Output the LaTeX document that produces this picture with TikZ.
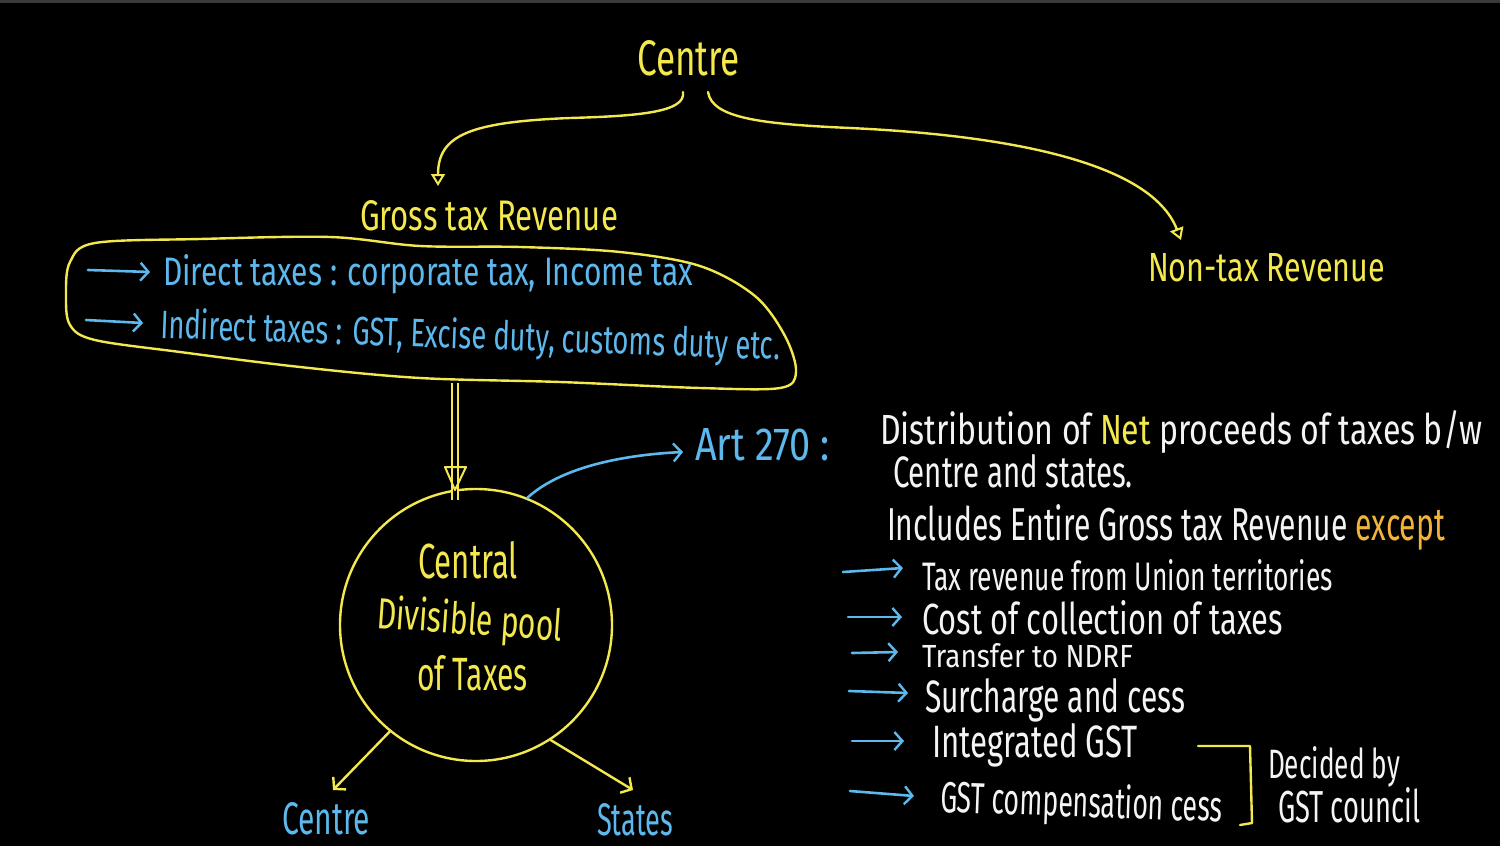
\documentclass[tikz,border=0pt]{standalone}
\usepackage{fontspec}
\setmainfont{Fira Sans}
\usetikzlibrary{arrows.meta}
\definecolor{ylw}{HTML}{F3E84E}
\definecolor{blu}{HTML}{5DB8EE}
\definecolor{wht}{HTML}{F4F4F4}
\definecolor{org}{HTML}{F0B43C}
\definecolor{topbar}{HTML}{3A3A3A}
\newcommand\fitto[3]{\resizebox{#1pt}{#2pt}{#3}}
\begin{document}
\begin{tikzpicture}[x=1pt,y=-1pt,
  lbl/.style={anchor=base west, inner sep=0pt, outer sep=0pt, font=\fontsize{30}{30}\selectfont},
  yl/.style={lbl, text=ylw}, bl/.style={lbl, text=blu}, wh/.style={lbl, text=wht},
  ystroke/.style={draw=ylw, line width=2.4pt, line cap=round, line join=round},
  bstroke/.style={draw=blu, line width=2.6pt, line cap=round, line join=round},
  barb/.style={-{Straight Barb[length=8pt,width=18pt,line width=2.4pt]}},
  tri/.style={-{Triangle[open,length=12pt,width=14pt,line width=2pt]}},
]
\useasboundingbox (0,0) rectangle (1500,846);
\fill[black] (0,0) rectangle (1500,846);
\fill[topbar] (0,0) rectangle (1500,3);

% top
\node[yl] (centre) at (637,75) {\fitto{103}{35}{Centre}};
\coordinate (cL) at (683,92);
\coordinate (cR) at (708,92);
\node[yl] (gross) at (360,230) {\fitto{258}{30}{Gross tax Revenue}};
\coordinate (grossT) at (438,186);
\node[yl] (nontax) at (1148,281) {\fitto{237}{28}{Non-tax Revenue}};
\coordinate (nontaxT) at (1181,240);
\draw[ystroke, tri] (cL) .. controls (686,112) and (640,116) .. (570,118)
   .. controls (470,122) and (438,135) .. (grossT);
\draw[ystroke, tri] (cR) .. controls (712,118) and (760,124) .. (850,128)
   .. controls (1000,135) and (1150,160) .. (nontaxT);

% blob
\draw[ystroke] plot[smooth cycle, tension=0.55] coordinates {
 (70,262) (95,243) (200,239) (330,237) (420,246) (520,247) (620,252) (700,266)
 (755,296) (785,336) (796,372) (780,388) (700,388) (560,382) (420,378) (300,367)
 (180,352) (95,340) (70,325) (66,295)};
\coordinate (blobS) at (455,383);

\node[bl] (direct) at (163,285) {\fitto{530}{31}{Direct taxes : corporate tax, Income tax}};
\node[bl, rotate=-2] (indirect) at (160,338) {\fitto{620}{31}{Indirect taxes : GST, Excise duty, customs duty etc.}};
\coordinate (a1s) at (88,270); \coordinate (a1e) at (150,272);
\coordinate (a2s) at (86,320); \coordinate (a2e) at (143,323);
\draw[bstroke, barb] (a1s) -- (a1e);
\draw[bstroke, barb] (a2s) -- (a2e);

% pool circle
\node[circle, draw=ylw, line width=2.4pt, minimum size=272pt, inner sep=0pt] (pool) at (476,625) {};
\node[yl] (t1) at (418,578) {\fitto{100}{37}{Central}};
\node[yl, rotate=-4] (t2) at (376,628) {\fitto{186}{34}{Divisible pool}};
\node[yl] (t3) at (417,690) {\fitto{111}{35}{of Taxes}};

\draw[ylw, line width=2pt, double=black, double distance=3.5pt] (blobS) -- ([yshift=-12pt]blobS |- pool.north);
\draw[ystroke, line width=2pt] (445,467) -- (455,490) -- (466,467) -- cycle;

\node[bl] (bcentre) at (282,834) {\fitto{88}{32}{Centre}};
\node[bl] (bstates) at (597,835) {\fitto{76}{32}{States}};
\coordinate (bcT) at (333,790);
\coordinate (bsT) at (633,790);
\draw[ystroke, barb] (pool.231) -- (bcT);
\draw[ystroke, barb] (pool.303) -- (bsT);

% Art 270
\node[bl] (art) at (695,460) {\fitto{135}{32}{Art 270 :}};
\coordinate (artT) at (683,452);
\draw[bstroke, barb] (pool.68) .. controls (560,468) and (620,455) .. (artT);

% right text
\node[wh] (d1) at (880,444) {\fitto{602}{34}{Distribution of \textcolor{ylw}{Net} proceeds of taxes b/w}};
\node[wh] (d2) at (893,487) {\fitto{240}{33}{Centre and states.}};
\node[wh] (d3) at (887,540) {\fitto{558}{36}{Includes Entire Gross tax Revenue \textcolor{org}{except}}};

\node[wh] (e1) at (922,590) {\fitto{411}{31}{Tax revenue from Union territories}};
\node[wh] (e2) at (922,634) {\fitto{361}{34}{Cost of collection of taxes}};
\node[wh] (e3) at (922,667) {\fitto{211}{24}{Transfer to NDRF}};
\node[wh] (e4) at (925,712) {\fitto{260}{34}{Surcharge and cess}};
\node[wh] (e5) at (932,757) {\fitto{206}{34}{Integrated GST}};
\node[wh, rotate=-2] (e6) at (940,812) {\fitto{282}{34}{GST compensation cess}};

\draw[bstroke, barb] (843,572) -- (903,568);
\draw[bstroke, barb] (848,617) -- (902,617);
\draw[bstroke, barb] (852,653) -- (898,652);
\draw[bstroke, barb] (849,691) -- (908,693);
\draw[bstroke, barb] (852,741) -- (904,741);
\draw[bstroke, barb] (850,791) -- (914,796);

\draw[ystroke] (1198,746) -- (1250,746) -- (1252,823) -- (1240,825);
\node[wh] (g1) at (1268,778) {\fitto{132}{32}{Decided by}};
\node[wh] (g2) at (1278,822) {\fitto{142}{35}{GST council}};
\end{tikzpicture}
\end{document}
